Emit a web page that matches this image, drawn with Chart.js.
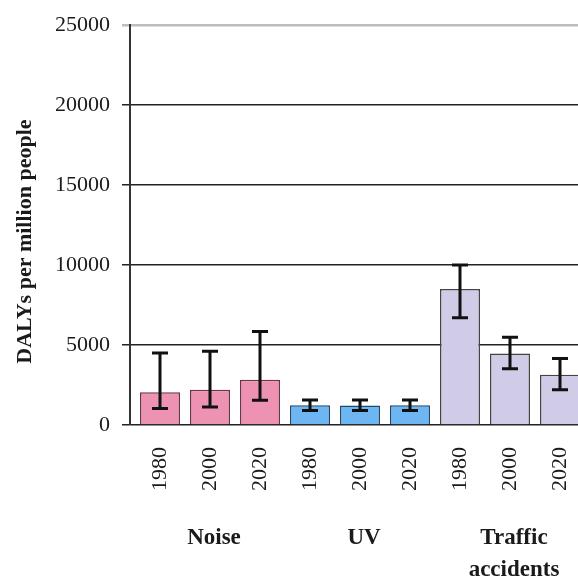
<!DOCTYPE html>
<html>
<head>
<meta charset="utf-8">
<script src="https://cdn.jsdelivr.net/npm/chart.js@4"></script>
<style>
  html, body { margin: 0; padding: 0; background: #fff; overflow: hidden; }
  #wrap { width: 580px; height: 581px; }
</style>
</head>
<body>
<div id="wrap"><canvas id="c"></canvas></div>
<script>
const years = ['1980', '2000', '2020'];
const groups = ['Noise', 'UV', ['Traffic', 'accidents']];

const noise = [2050, 2200, 2830];
const noiseLow = [1030, 1130, 1540];
const noiseHigh = [4510, 4610, 5840];

const uv = [1230, 1220, 1230];
const uvLow = [900, 900, 900];
const uvHigh = [1560, 1560, 1560];

const traffic = [8500, 4470, 3140];
const trafficLow = [6700, 3520, 2210];
const trafficHigh = [10010, 5490, 4160];

const FONT = "'Liberation Serif', 'Times New Roman', serif";

// bars sit at x = 0..8 on a linear axis, 3 per group
const pts = (vals, start) => vals.map((v, i) => ({ x: start + i, y: v }));
const barTicks = s => { s.ticks = [0, 1, 2, 3, 4, 5, 6, 7, 8].map(v => ({ value: v })); };

const errorBars = {
  id: 'errorBars',
  afterDatasetsDraw(chart) {
    const ctx = chart.ctx;
    const y = chart.scales.y;
    ctx.save();
    ctx.strokeStyle = '#111';
    ctx.lineWidth = 3;
    chart.data.datasets.forEach((ds, i) => {
      chart.getDatasetMeta(i).data.forEach((bar, j) => {
        const top = y.getPixelForValue(ds.errHigh[j]);
        const bot = y.getPixelForValue(ds.errLow[j]);
        const x = bar.x;
        ctx.beginPath();
        ctx.moveTo(x, top); ctx.lineTo(x, bot);
        ctx.moveTo(x - 8, top); ctx.lineTo(x + 8, top);
        ctx.moveTo(x - 8, bot); ctx.lineTo(x + 8, bot);
        ctx.stroke();
      });
    });
    ctx.restore();
  }
};

new Chart(document.getElementById('c'), {
  type: 'bar',
  data: {
    datasets: [
      { label: 'Noise', data: pts(noise, 0), errLow: noiseLow, errHigh: noiseHigh,
        backgroundColor: '#EE92B3', borderColor: '#6e3345', borderWidth: 1.5 },
      { label: 'UV', data: pts(uv, 3), errLow: uvLow, errHigh: uvHigh,
        backgroundColor: '#6EB6F2', borderColor: '#1b4a72', borderWidth: 1.5 },
      { label: 'Traffic accidents', data: pts(traffic, 6), errLow: trafficLow, errHigh: trafficHigh,
        backgroundColor: '#D0CCE8', borderColor: '#444', borderWidth: 1.5 }
    ]
  },
  options: {
    responsive: true,
    maintainAspectRatio: false,
    animation: false,
    grouped: false,
    barPercentage: 0.8,
    categoryPercentage: 1,
    layout: { padding: { left: 12, top: 15, right: 0, bottom: 0 } },
    plugins: { legend: { display: false }, tooltip: { enabled: false } },
    scales: {
      y: {
        min: 0,
        max: 25000,
        afterFit: s => { s.width = 118; },
        ticks: { stepSize: 5000, padding: 12, color: '#1a1a1a', font: { family: FONT, size: 22 },
                 callback: v => String(v) },
        grid: {
          color: c => c.tick && c.tick.value === 25000 ? '#bdbdbd' : '#222',
          lineWidth: c => c.tick && c.tick.value === 25000 ? 2.5 : 1.5,
          tickLength: 8
        },
        border: { color: '#333', width: 2 },
        title: {
          display: true,
          text: 'DALYs per million people      ',
          color: '#1a1a1a',
          padding: 0,
          font: { family: FONT, size: 22, weight: 'bold' }
        }
      },
      x: {
        type: 'linear',
        offset: false,
        min: -0.6,
        max: 8.4,
        afterBuildTicks: barTicks,
        afterFit: s => { s.height = 95; s.paddingLeft = 0; s.paddingRight = 0; },
        grid: { display: false, drawTicks: false },
        border: { display: false },
        ticks: {
          autoSkip: false,
          minRotation: 90,
          maxRotation: 90,
          padding: 22,
          color: '#1a1a1a',
          font: { family: FONT, size: 22 },
          callback: v => years[v % 3]
        }
      },
      x2: {
        type: 'linear',
        offset: false,
        position: 'bottom',
        weight: 1,
        min: -0.6,
        max: 8.4,
        afterBuildTicks: barTicks,
        afterFit: s => { s.height = 61; s.paddingLeft = 0; s.paddingRight = 0; },
        grid: { display: false, drawTicks: false },
        border: { display: false },
        ticks: {
          autoSkip: false,
          minRotation: 0,
          maxRotation: 0,
          padding: 2,
          labelOffset: 4,
          color: '#1a1a1a',
          font: { family: FONT, size: 23, weight: 'bold', lineHeight: 1.4 },
          callback: v => v % 3 === 1 ? groups[(v - 1) / 3] : ''
        }
      }
    }
  },
  plugins: [errorBars]
});
</script>
</body>
</html>
